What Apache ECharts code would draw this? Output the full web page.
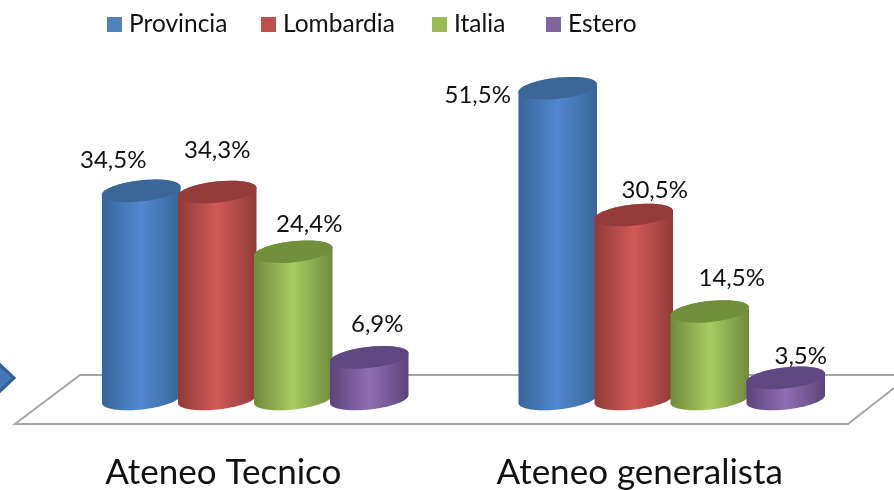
<!DOCTYPE html>
<html>
<head>
<meta charset="utf-8">
<style>html,body{margin:0;padding:0;background:#fff}#c{width:894px;height:490px}</style>
<script src="https://cdn.jsdelivr.net/npm/echarts@6/dist/echarts.min.js"></script>
</head>
<body>
<div id="c"></div>
<script>
const categories = ['Ateneo Tecnico', 'Ateneo generalista'];
const seriesNames = ['Provincia', 'Lombardia', 'Italia', 'Estero'];
const provincia = [34.5, 51.5];
const lombardia = [34.3, 30.5];
const italia = [24.4, 14.5];
const estero = [6.9, 3.5];
const seriesValues = [provincia, lombardia, italia, estero];

// appearance and layout, separate from the data
const FONT = 'Lato, "Open Sans", sans-serif';
const palette = [
  { legend: '#4f81bd', edge: '#38659a', mid: '#5089cf', top: '#3a6797' },
  { legend: '#c0504d', edge: '#8f3b39', mid: '#d25a57', top: '#943c3a' },
  { legend: '#9bbb59', edge: '#6f8a3c', mid: '#a9cb62', top: '#728f3e' },
  { legend: '#8064a2', edge: '#5c4378', mid: '#8f6fb5', top: '#5f4780' }
];
const labelShift = [
  [[-28, -31], [-80, 7]],
  [[0, -42], [21, -25]],
  [[16, -28], [22, -33]],
  [[8, -33], [15, -22]]
];
const legendLefts = [102, 256, 427, 541];
const STEP = 76, BAR_W = 79, RY = 10.5, GROUP_SHIFT = 32, TILT = 0.11;

function cylinder(sIdx) {
  return function (params, api) {
    const cat = api.value(0);
    const val = api.value(1);
    const base = api.coord([cat, 0]);
    const head = api.coord([cat, val]);
    const c = palette[sIdx];
    const cx = base[0] + GROUP_SHIFT + (sIdx - 1.5) * STEP;
    const rx = BAR_W / 2;
    const grad = new echarts.graphic.LinearGradient(0, 0, 1, 0, [
      { offset: 0, color: c.edge },
      { offset: 0.5, color: c.mid },
      { offset: 1, color: c.edge }
    ]);
    const shift = labelShift[sIdx][cat];
    const cosT = Math.cos(TILT), sinT = Math.sin(TILT);
    const rim = (cy, t) => {
      const lx = rx * Math.cos(t), ly = RY * Math.sin(t);
      return [cx + lx * cosT + ly * sinT, cy - lx * sinT + ly * cosT];
    };
    const outline = [];
    for (let k = 0; k <= 36; k++) outline.push(rim(base[1], Math.PI * k / 36));
    for (let k = 0; k <= 36; k++) outline.push(rim(head[1], Math.PI + Math.PI * k / 36));
    return {
      type: 'group',
      children: [
        { type: 'polygon', shape: { points: outline }, style: { fill: grad } },
        {
          type: 'ellipse',
          x: cx, y: head[1], rotation: TILT,
          shape: { cx: 0, cy: 0, rx: rx, ry: RY },
          style: { fill: c.top }
        },
        {
          type: 'text',
          x: cx + shift[0], y: head[1] + shift[1],
          style: {
            text: val.toFixed(1).replace('.', ',') + '%',
            font: '24px ' + FONT, fill: '#111',
            align: 'center', verticalAlign: 'middle'
          }
        }
      ]
    };
  };
}

const chart = echarts.init(document.getElementById('c'), null, { renderer: 'canvas' });
chart.setOption({
  animation: false,
  backgroundColor: '#fff',
  legend: seriesNames.map((n, i) => ({
    left: legendLefts[i], top: 7,
    icon: 'rect', itemWidth: 15, itemHeight: 15,
    data: [n],
    textStyle: { fontFamily: FONT, fontSize: 24.5, color: '#111', padding: [0, 0, 0, 2] }
  })),
  grid: { left: 15, width: 833, top: 37, height: 363 },
  xAxis: {
    type: 'category',
    data: categories,
    axisLine: { show: false }, axisTick: { show: false },
    axisLabel: { fontFamily: FONT, fontSize: 35, color: '#111', margin: 56, interval: 0 }
  },
  yAxis: { type: 'value', min: 0, max: 60, show: false },
  graphic: [
    {
      type: 'polyline', silent: true, z: 0,
      shape: { points: [[894, 388], [848, 424], [15, 424], [80, 375], [894, 375]] },
      style: { stroke: '#a6a6a6', lineWidth: 2, fill: null }
    },
    {
      type: 'polygon', silent: true, z: 0,
      shape: { points: [[-2, 363], [14, 378], [-2, 393]] },
      style: { fill: '#4677b3', stroke: '#2f5f94', lineWidth: 3 }
    }
  ],
  series: seriesNames.map((name, i) => ({
    name: name,
    type: 'custom',
    coordinateSystem: 'cartesian2d',
    clip: false,
    itemStyle: { color: palette[i].legend },
    encode: { x: 0, y: 1 },
    data: seriesValues[i].map((v, k) => [k, v]),
    renderItem: cylinder(i)
  }))
});
</script>
</body>
</html>
